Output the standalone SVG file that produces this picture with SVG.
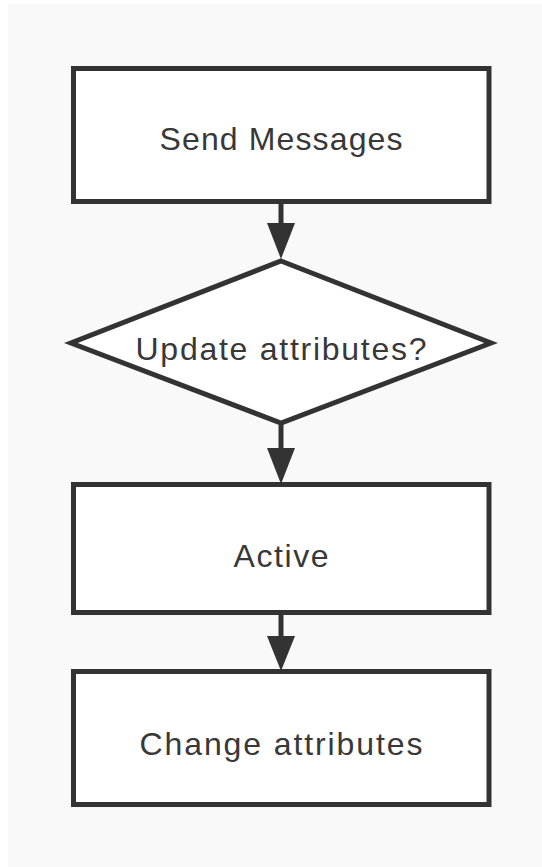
<svg xmlns="http://www.w3.org/2000/svg" width="542" height="867" viewBox="0 0 542 867">
  <style>
    .shape { fill: #ffffff; stroke: #333333; stroke-width: 5; }
    .label { font-family: "Liberation Sans", Arial, sans-serif; font-size: 32px; fill: #383838; text-anchor: middle; }
    .conn { stroke: #333333; stroke-width: 5; fill: none; }
    .head { fill: #333333; stroke: none; }
  </style>
  <rect x="0" y="0" width="542" height="867" fill="#ffffff"/>
  <rect x="8" y="4" width="534" height="863" fill="#f9f9f9"/>

  <g id="node-send">
    <rect class="shape" x="73.5" y="68.5" width="415.5" height="133"/>
    <text class="label" x="281" y="150" textLength="243" lengthAdjust="spacing">Send Messages</text>
  </g>

  <g id="node-update">
    <polygon class="shape" points="281,261 491,343 281,423 71,343"/>
    <text class="label" x="281" y="360" textLength="291" lengthAdjust="spacing">Update attributes?</text>
  </g>

  <g id="node-active">
    <rect class="shape" x="73.5" y="484.5" width="415.5" height="128"/>
    <text class="label" x="281" y="567" textLength="95" lengthAdjust="spacing">Active</text>
  </g>

  <g id="node-change">
    <rect class="shape" x="73.5" y="671.5" width="415.5" height="133"/>
    <text class="label" x="281" y="755" textLength="283" lengthAdjust="spacing">Change attributes</text>
  </g>

  <g id="connectors">
    <line class="conn" x1="281" y1="204" x2="281" y2="226"/>
    <polygon class="head" points="267,223 295,223 281,259"/>
    <line class="conn" x1="281" y1="425" x2="281" y2="451"/>
    <polygon class="head" points="267,448 295,448 281,484"/>
    <line class="conn" x1="281" y1="615" x2="281" y2="639"/>
    <polygon class="head" points="267,636 295,636 281,671"/>
  </g>
</svg>
